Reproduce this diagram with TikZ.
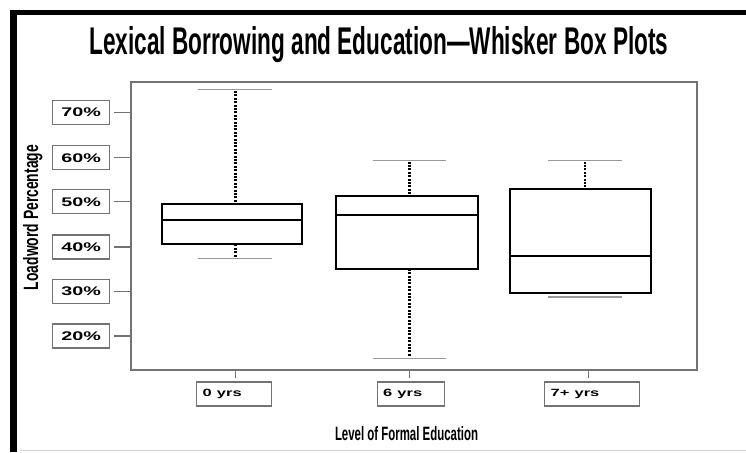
\documentclass[tikz,border=0pt]{standalone}
\usepackage{fontspec}
\setmainfont{Liberation Sans}
\definecolor{axisgray}{gray}{0.45}
\definecolor{capgray}{gray}{0.6}
\begin{document}
\begin{tikzpicture}[x=1pt,y=-1pt,
  ylab/.style={draw=axisgray, line width=1.2pt, minimum width=57pt, minimum height=24pt, inner sep=0pt, anchor=west},
  xlab/.style={draw=axisgray, line width=1.2pt, minimum height=24pt, inner ysep=0pt, inner xsep=6pt, anchor=west, align=left},
  axtick/.style={draw=axisgray, line width=1.3pt},
  boxl/.style={draw=black, line width=2pt},
  whisk/.style={draw=black, line width=2.6pt, dash pattern=on 2pt off 1.4pt},
  wcap/.style={draw=capgray, line width=1.5pt}]
\useasboundingbox (0,0) rectangle (746,452);
% outer frame
\fill[black] (10,10) rectangle (17,452);
\fill[black] (10,10) rectangle (746,15);
\draw[gray!35, line width=1pt] (20,450.5) -- (746,450.5);
% title
\node[anchor=base west, inner sep=0pt] (title) at (89,55)
  {\resizebox{579pt}{28pt}{\bfseries Lexical Borrowing and Education—Whisker Box Plots}};
% plot area
\node[draw=axisgray, line width=1.5pt, inner sep=0pt, minimum width=566pt, minimum height=288pt, anchor=north west] (plot) at (130,81) {};
% y axis labels and ticks
\foreach \v/\yy in {70/112.3,60/157.7,50/201.7,40/247,30/291.7,20/336} {
  \node[ylab] (l\v) at (52,\yy) {\scalebox{1.58}[1]{\fontsize{12.5}{12.5}\selectfont\bfseries \v\%}};
  \draw[axtick] (l\v.east) ++(4,0) -- (plot.west |- l\v.east);
}
% axis titles
\node[rotate=90, anchor=base, inner sep=0pt] (ytitle) at (38,217.5)
  {\resizebox{145pt}{15pt}{\bfseries Loadword Percentage}};
\node[anchor=base, inner sep=0pt] (xtitle) at (406.5,440)
  {\resizebox{143pt}{14pt}{\bfseries Level of Formal Education}};
% x labels and ticks
\node[xlab, text width=63pt] (x0) at (196,394) {\scalebox{1.57}[1]{\fontsize{10.5}{10.5}\selectfont\bfseries 0 yrs}};
\node[xlab, text width=55pt] (x6) at (376.5,394) {\scalebox{1.57}[1]{\fontsize{10.5}{10.5}\selectfont\bfseries 6 yrs}};
\node[xlab, text width=82.6pt] (x7) at (544,394) {\scalebox{1.57}[1]{\fontsize{10.5}{10.5}\selectfont\bfseries 7+ yrs}};
\coordinate (t0) at (235.3,378);
\coordinate (t6) at (409.7,378);
\coordinate (t7) at (588.3,378);
\draw[axtick] (t0) -- (t0 |- plot.south);
\draw[axtick] (t6) -- (t6 |- plot.south);
\draw[axtick] (t7) -- (t7 |- plot.south);
% box 1: 0 yrs
\draw[wcap] (198,89.7) -- (271.7,89.7);
\draw[whisk] (235.3,91) -- (235.3,204);
\draw[whisk] (235.3,244.3) -- (235.3,257.5);
\draw[wcap] (198,258.7) -- (271.7,258.7);
\draw[boxl] (162.3,204) rectangle (302.3,244.3);
\draw[boxl] (162.3,220.3) -- (302.3,220.3);
% box 2: 6 yrs
\draw[wcap] (373.3,160.3) -- (446,160.3);
\draw[whisk] (409.7,161.5) -- (409.7,196.3);
\draw[whisk] (409.7,268.7) -- (409.7,357);
\draw[wcap] (373.3,358.3) -- (446,358.3);
\draw[boxl] (336,196.3) rectangle (478,268.7);
\draw[boxl] (336,215) -- (478,215);
% box 3: 7+ yrs
\draw[wcap] (548.3,160.3) -- (621.7,160.3);
\draw[whisk] (585,161.5) -- (585,189.3);
\draw[wcap] (548.3,297) -- (621.7,297);
\draw[boxl] (510,189.3) rectangle (651.3,293);
\draw[boxl] (510,256.3) -- (651.3,256.3);
\end{tikzpicture}
\end{document}
